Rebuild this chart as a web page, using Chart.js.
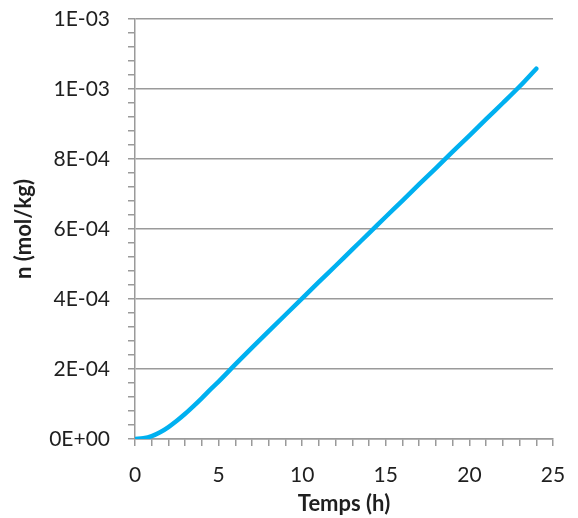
<!DOCTYPE html>
<html>
<head>
<meta charset="utf-8">
<script src="https://cdn.jsdelivr.net/npm/chart.js@4"></script>
<style>
  html, body { margin: 0; padding: 0; background: #fff; }
  #wrap { width: 578px; height: 518px; position: relative; }
</style>
</head>
<body>
<div id="wrap"><canvas id="chart"></canvas></div>
<script>
// values
const timeHours = [0, 0.5, 1, 1.5, 2, 2.5, 3, 3.5, 4, 4.5, 5, 6, 7, 8, 9, 10, 11, 12, 13, 14, 15, 16, 17, 18, 19, 20, 21, 22, 23, 24];
const nValues = [0, 2e-6, 8e-6, 1.9e-5, 3.4e-5, 5.2e-5, 7.2e-5, 9.4e-5, 1.17e-4, 1.41e-4, 1.64e-4, 2.13e-4, 2.61e-4, 3.08e-4, 3.55e-4, 4.02e-4, 4.49e-4, 4.95e-4, 5.42e-4, 5.88e-4, 6.35e-4, 6.81e-4, 7.28e-4, 7.74e-4, 8.21e-4, 8.67e-4, 9.14e-4, 9.60e-4, 1.007e-3, 1.058e-3];
const xTitle = 'Temps (h)';
const yTitle = 'n (mol/kg)';

const gridGray = '#9a9a9a';
const textColor = '#1f1f1f';
const fontFamily = 'Lato, "Open Sans", sans-serif';

// Excel-like scientific label: 1E-03, 0E+00
function sciLabel(v) {
    const s = Number(v).toExponential(0).toUpperCase();
    const parts = s.split('E');
    const sign = parts[1][0] === '-' ? '-' : '+';
    const exp = parts[1].replace(/[+-]/, '').padStart(2, '0');
    return parts[0] + 'E' + sign + exp;
}

const points = timeHours.map((t, i) => ({ x: t, y: nValues[i] }));

new Chart(document.getElementById('chart'), {
    type: 'line',
    data: {
        datasets: [{
            data: points,
            borderColor: '#00b0f0',
            borderWidth: 4.5,
            borderCapStyle: 'round',
            pointRadius: 0,
            cubicInterpolationMode: 'monotone',
            fill: false
        }]
    },
    options: {
        responsive: true,
        maintainAspectRatio: false,
        animation: false,
        layout: { padding: { top: 19, right: 25, left: 0, bottom: 0 } },
        plugins: {
            legend: { display: false },
            tooltip: { enabled: false }
        },
        scales: {
            x: {
                type: 'linear',
                min: 0,
                max: 25,
                afterFit: (s) => {
                    s.height = 79;
                    s.paddingLeft = 0;
                    s.paddingRight = 0;
                },
                ticks: {
                    stepSize: 1,
                    autoSkip: false,
                    maxRotation: 0,
                    padding: 17,
                    color: textColor,
                    font: { family: fontFamily, size: 21 },
                    callback: (v) => (v % 5 === 0 ? String(v) : '')
                },
                grid: {
                    color: 'rgba(0,0,0,0)',
                    tickColor: gridGray,
                    tickLength: 7,
                    lineWidth: 1.5
                },
                border: { display: true, color: gridGray, width: 1.5 },
                title: {
                    display: true,
                    text: xTitle,
                    color: textColor,
                    font: { family: fontFamily, size: 22, weight: 'bold' },
                    padding: { top: 0, bottom: 1 }
                }
            },
            y: {
                min: 0,
                max: 1.2e-3,
                afterFit: (s) => {
                    s.width = 135;
                    s.paddingTop = 0;
                    s.paddingBottom = 0;
                },
                ticks: {
                    stepSize: 4e-5,
                    maxTicksLimit: 100,
                    autoSkip: false,
                    padding: 18,
                    color: textColor,
                    font: { family: fontFamily, size: 21 },
                    callback: (v, i) => (i % 5 === 0 ? sciLabel(v) : '')
                },
                grid: {
                    color: (ctx) => (ctx.index % 5 === 0 ? gridGray : 'rgba(0,0,0,0)'),
                    tickColor: gridGray,
                    tickLength: 7,
                    lineWidth: 1.5
                },
                border: { display: true, color: gridGray, width: 1.5 },
                title: {
                    display: true,
                    text: yTitle,
                    color: textColor,
                    font: { family: fontFamily, size: 22, weight: 'bold' },
                    padding: { top: 11, bottom: 0 }
                }
            }
        }
    }
});
</script>
</body>
</html>
